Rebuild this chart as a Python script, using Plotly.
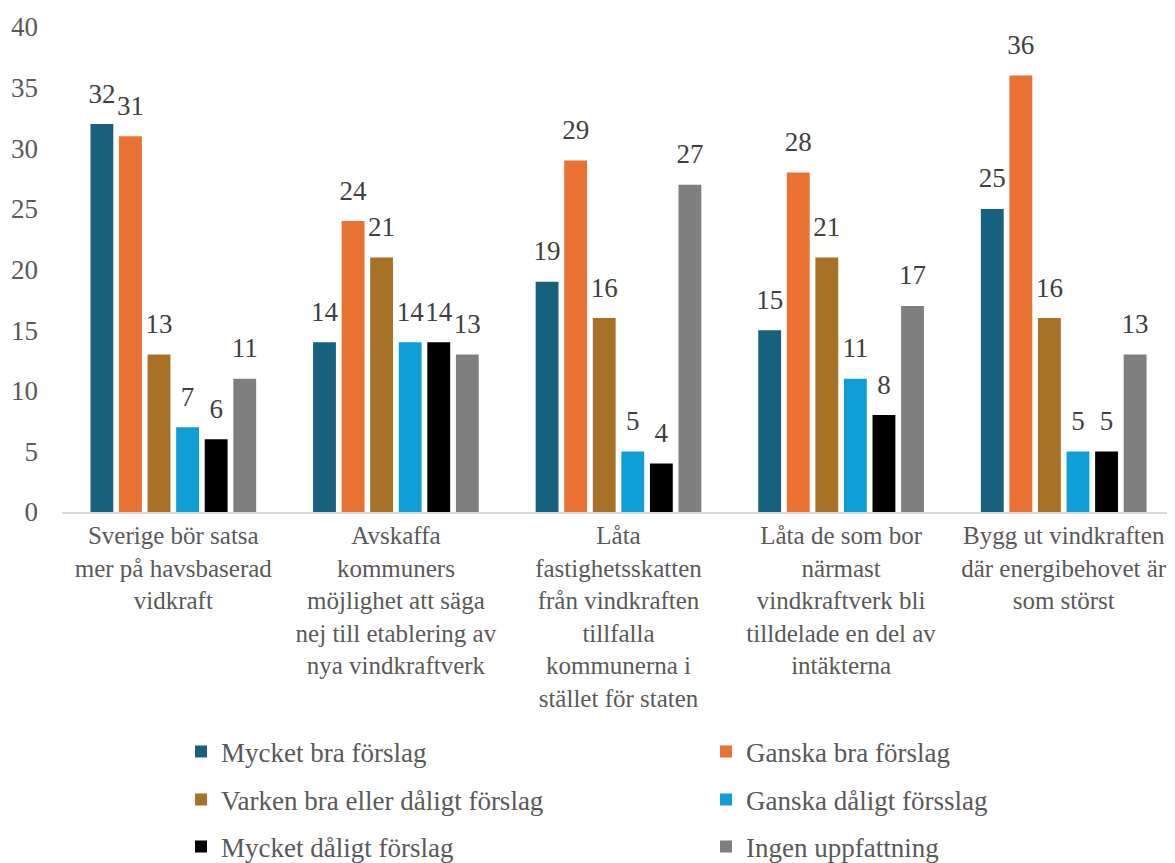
import plotly.graph_objects as go

categories = [
    "Sverige bör satsa<br>mer på havsbaserad<br>vidkraft",
    "Avskaffa<br>kommuners<br>möjlighet att säga<br>nej till etablering av<br>nya vindkraftverk",
    "Låta<br>fastighetsskatten<br>från vindkraften<br>tillfalla<br>kommunerna i<br>stället för staten",
    "Låta de som bor<br>närmast<br>vindkraftverk bli<br>tilldelade en del av<br>intäkterna",
    "Bygg ut vindkraften<br>där energibehovet är<br>som störst",
]

series_names = [
    "Mycket bra förslag",
    "Ganska bra förslag",
    "Varken bra eller dåligt förslag",
    "Ganska dåligt försslag",
    "Mycket dåligt förslag",
    "Ingen uppfattning",
]

mycket_bra = [32, 14, 19, 15, 25]
ganska_bra = [31, 24, 29, 28, 36]
varken = [13, 21, 16, 21, 16]
ganska_daligt = [7, 14, 5, 11, 5]
mycket_daligt = [6, 14, 4, 8, 5]
ingen = [11, 13, 27, 17, 13]

colors = ["#17607E", "#E97132", "#A87128", "#0F9ED5", "#000000", "#7F7F7F"]

font_fam = "Liberation Serif"

# page has an 8px body margin, so the figure is that much smaller
W, H = 1167, 855

# one legend per entry: 2 columns x 3 rows
leg_ids = ["legend", "legend2", "legend3", "legend4", "legend5", "legend6"]
leg_x = [173, 698, 173, 698, 173, 698]
leg_y = [744, 744, 792, 792, 839, 839]

fig = go.Figure()
all_values = [mycket_bra, ganska_bra, varken, ganska_daligt, mycket_daligt, ingen]
for i, (name, vals, col, lg) in enumerate(zip(series_names, all_values, colors, leg_ids)):
    fig.add_trace(go.Bar(
        x=categories, y=vals, name=name, legend=lg,
        offsetgroup=str(i), alignmentgroup="a",
        marker=dict(color=col, line=dict(width=0)),
    ))
    # value labels sit a bit higher than plotly's default bar text
    fig.add_trace(go.Scatter(
        x=categories, y=vals, mode="markers+text", showlegend=False,
        offsetgroup=str(i), alignmentgroup="a",
        marker=dict(size=22, opacity=0), text=vals, textposition="top center",
        textfont=dict(size=27, color="#404040", family=font_fam),
        cliponaxis=False, hoverinfo="skip",
    ))

legends = {}
for lg, lx, ly in zip(leg_ids, leg_x, leg_y):
    legends[lg] = dict(
        orientation="h", xref="container", yref="container",
        x=lx / W, y=1 - ly / H, xanchor="left", yanchor="middle",
        font=dict(size=27, color="#595959", family=font_fam),
        bgcolor="rgba(0,0,0,0)",
    )

fig.update_layout(
    width=W, height=H,
    barmode="group", bargap=0.23, bargroupgap=0.2, scattermode="group",
    plot_bgcolor="white", paper_bgcolor="white",
    font=dict(family=font_fam, color="#595959"),
    margin=dict(l=54, r=0, t=19, b=351),
    showlegend=True,
    **legends,
)
fig.update_yaxes(
    range=[0, 40], dtick=5, showgrid=False, zeroline=False,
    tickfont=dict(size=27, color="#595959", family=font_fam),
    ticks="", ticklabelstandoff=23,
)
fig.update_xaxes(
    showline=True, linecolor="#D9D9D9", linewidth=2,
    tickfont=dict(size=25, color="#595959", family=font_fam), ticks="",
)

fig.write_html("out.html")
